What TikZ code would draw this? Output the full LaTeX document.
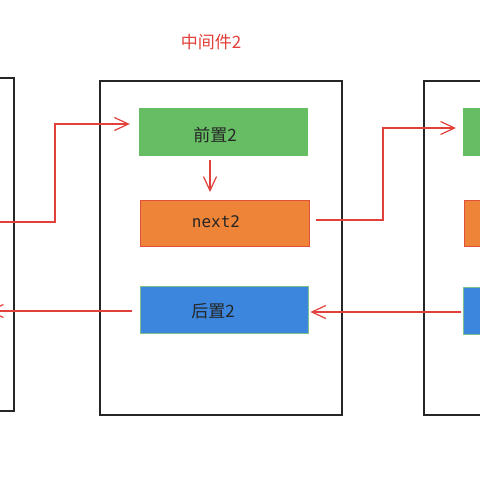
\documentclass[tikz,border=0pt]{standalone}
\usepackage{fontspec}
\newfontfamily\cjk{Noto Sans CJK SC}
\newfontfamily\monof{DejaVu Sans Mono}
\usetikzlibrary{arrows.meta}
\definecolor{myred}{HTML}{E2403A}
\definecolor{mygreen}{HTML}{67BD64}
\definecolor{myorange}{HTML}{EE8437}
\definecolor{myblue}{HTML}{3C86DD}
\definecolor{bluebd}{HTML}{7CC08A}
\definecolor{orangebd}{HTML}{E0503A}
\begin{document}
\begin{tikzpicture}[x=1pt,y=-1pt,
  frame/.style={draw=black!85,line width=1.4pt,rectangle,inner sep=0pt},
  gbox/.style={fill=mygreen,draw=mygreen,rectangle,inner sep=0pt,minimum width=168pt,minimum height=47pt},
  obox/.style={fill=myorange,draw=orangebd,line width=0.8pt,rectangle,inner sep=0pt,minimum width=169pt,minimum height=46pt},
  bbox/.style={fill=myblue,draw=bluebd,line width=0.8pt,rectangle,inner sep=0pt,minimum width=168pt,minimum height=47pt},
  lbl/.style={font=\cjk\fontsize{17}{17}\selectfont,text=black!85,inner sep=0pt},
  conn/.style={draw=myred,line width=1.2pt,-{Straight Barb[length=14pt,width=13pt,line width=1.2pt]}},
  plain/.style={draw=myred,line width=1.2pt}]
\useasboundingbox (0,0) rectangle (480,480);
\clip (0,0) rectangle (480,480);
\fill[white] (0,0) rectangle (480,480);
% frames
\node[frame,minimum width=242pt,minimum height=334pt] (mid) at (221,248) {};
\node[frame,minimum width=214pt,minimum height=333pt] (left) at (-93,244.5) {};
\node[frame,minimum width=200pt,minimum height=334pt] (right) at (524,248) {};
% title
\node[font=\cjk\fontsize{17}{17}\selectfont,text=myred,inner sep=0pt] (title) at (211,42.5) {中间件2};
% middle inner boxes
\node[gbox] (g) at (223,131.5) {};
\node[obox] (o) at (224.5,223) {};
\node[bbox] (b) at (224,309.5) {};
\node[lbl] (tg) at (215,135) {前置2};
\node[lbl,font=\monof\fontsize{16}{16}\selectfont] (to) at (216,221.5) {next2};
\node[lbl] (tb) at (213,311) {后置2};
% right inner boxes
\node[gbox,anchor=north west] (rg) at (463,108) {};
\node[obox,anchor=north west] (ro) at (464,200) {};
\node[bbox,anchor=north west] (rb) at (463,286.5) {};
% connectors
\coordinate (s1) at (-6,222);
\draw[conn] (s1) -- (55,222) -- (55,124) -- (g.west |- 0,124) [shorten >=9pt] ;
\coordinate (d1) at (210,160);
\coordinate (d2) at (210,192);
\draw[conn] (d1) -- (d2);
\draw[conn,shorten <=7pt,shorten >=7pt] (o.east |- 0,220) -- (383,220) -- (383,128) -- (rg.west |- 0,128);
\draw[conn,shorten <=2pt,shorten >=2pt] (rb.west |- 0,312) -- (b.east |- 0,312);
\coordinate (e1) at (-12,311);
\draw[conn,shorten <=8pt] (b.west |- 0,311) -- (e1);
\end{tikzpicture}
\end{document}
